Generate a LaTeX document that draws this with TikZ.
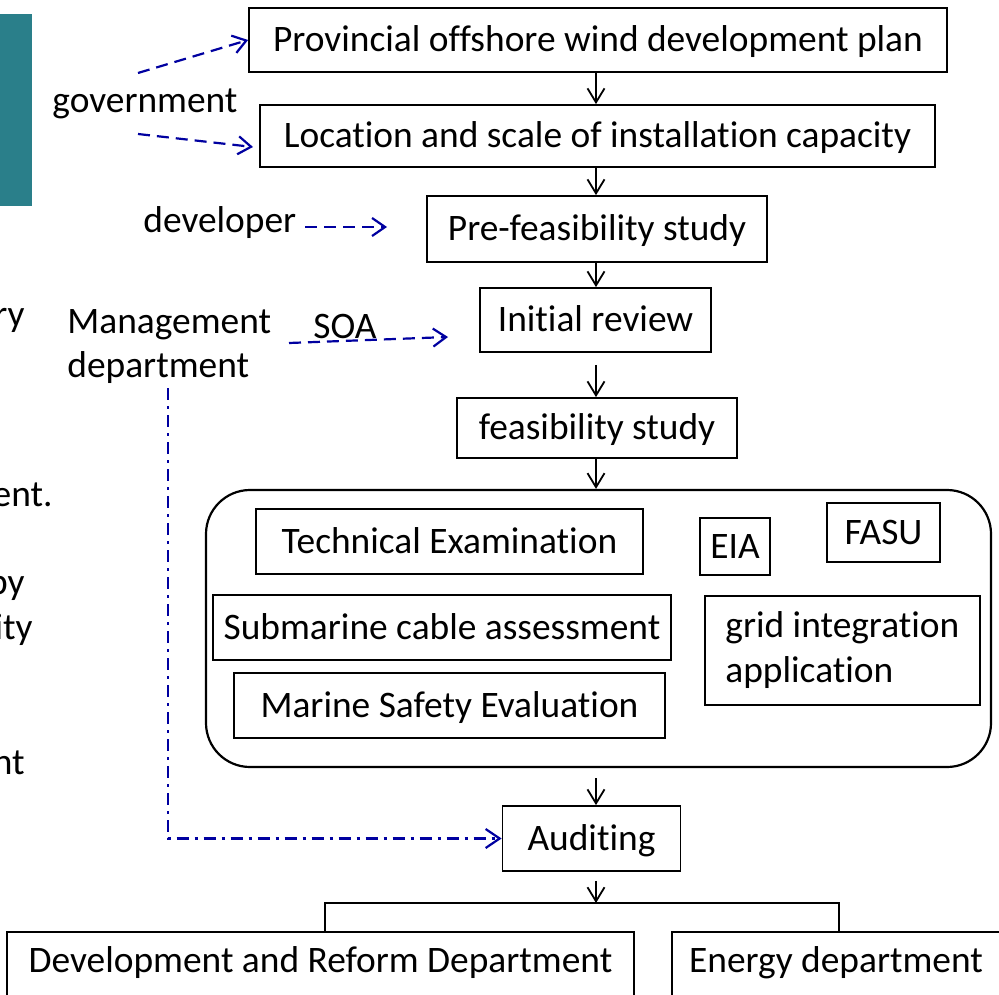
\documentclass[tikz,border=0pt]{standalone}
\usepackage{fontspec}
\setmainfont{Carlito}[Ligatures=NoCommon]
\usetikzlibrary{arrows.meta}
\definecolor{tealbar}{RGB}{42,127,138}
\definecolor{arrowblue}{RGB}{0,0,160}
\begin{document}
\begin{tikzpicture}[x=0.5pt,y=-0.5pt,
  every node/.style={font=\fontsize{18.7}{22.4}\selectfont, inner sep=0pt},
  box/.style={draw, line width=0.9pt, text height=16.4pt, text depth=4.6pt},
  lowbox/.style={draw, line width=0.9pt, text height=10.6pt, text depth=4.6pt},
  lbl/.style={anchor=base west},
  lblr/.style={anchor=base east},
  flow/.style={line width=0.9pt, -{Straight Barb[length=7pt,width=8.5pt,line width=0.9pt]}},
  govarrow/.style={arrowblue, line width=1.1pt, dash pattern=on 6pt off 3.5pt, -{Straight Barb[length=6.5pt,width=9pt,line width=1.1pt]}},
  ddarrow/.style={arrowblue, line width=1.1pt, dash pattern=on 6pt off 3pt on 1.5pt off 3pt, -{Straight Barb[length=7pt,width=9.5pt,line width=1.1pt]}},
]
\useasboundingbox (0,0) rectangle (999,994);
\clip (0,0) rectangle (999,994);

% teal bar
\fill[tealbar] (0,14) rectangle (32,206);

% cut-off text on the left
\node[lblr] (f1) at (25,326) {ry};
\node[lblr] (f2) at (53,506) {ent.};
\node[lblr] (f3) at (25,594) {by};
\node[lblr] (f4) at (33,639) {ity};
\node[lblr] (f5) at (25,774) {nt};

% main flow boxes
\node[box, minimum width=349pt, minimum height=32pt] (plan) at (598,40) {Provincial offshore wind development plan};
\node[box, minimum width=337.5pt, minimum height=31pt] (loc) at (597.5,136) {Location and scale of installation capacity};
\node[box, minimum width=170pt, minimum height=33pt] (pre) at (597,229) {Pre-feasibility study};
\node[box, minimum width=115.5pt, minimum height=32pt] (init) at (595.5,320) {Initial review};
\node[box, minimum width=140pt, minimum height=30pt] (feas) at (597,428) {feasibility study};

% group
\node[draw, line width=1.1pt, rounded corners=22pt, minimum width=392.5pt, minimum height=138.5pt] (group) at (598.5,628.5) {};
\node[box, minimum width=193.5pt, minimum height=32.5pt] (tech) at (449.5,541.5) {Technical Examination};
\node[box, minimum width=35pt, minimum height=28.5pt] (eia) at (735,546.5) {EIA};
\node[box, minimum width=56.5pt, minimum height=29.5pt] (fasu) at (883.5,532.5) {FASU};
\node[box, minimum width=229pt, minimum height=32.5pt] (sub) at (442,627.5) {Submarine cable assessment};
\node[box, minimum width=137.5pt, minimum height=54.5pt] (grid) at (842.5,650.5) {};
\node[lbl] (gridA) at (725,637) {grid integration};
\node[lbl] (gridB) at (725,682) {application};
\node[box, minimum width=215.5pt, minimum height=32.5pt] (marine) at (449.5,705.5) {Marine Safety Evaluation};

\node[box, minimum width=89pt, minimum height=32.5pt] (audit) at (591.5,838.5) {Auditing};

\node[lowbox, minimum width=313.5pt, minimum height=34pt] (ndrc) at (320.5,966) {Development and Reform Department};
\node[lowbox, minimum width=164pt, minimum height=34pt] (energy) at (836,966) {Energy department};

% side labels
\node[lbl] (gov) at (52,113) {government};
\node[lbl] (devl) at (143,233) {developer};
\node[lbl] (mgmt1) at (67,333) {Management};
\node[lbl] (mgmt2) at (67,377) {department};
\node[lbl] (soa) at (313,338) {SOA};

% flow arrows
\coordinate (ax) at (596,0);
\draw[flow] (plan.south -| ax) -- (loc.north -| ax);
\draw[flow] (loc.south -| ax) -- (pre.north -| ax);
\draw[flow] (pre.south -| ax) -- (init.north -| ax);
\draw[flow, shorten <=6pt] (init.south -| ax) -- (feas.north -| ax);
\draw[flow] (feas.south -| ax) -- (group.north -| ax);
\draw[flow, shorten <=5pt] (group.south -| ax) -- (audit.north -| ax);
\coordinate (fork) at (596,903);
\coordinate (fl) at (325,903);
\coordinate (fr) at (839,903);
\draw[flow, shorten <=4.5pt] (audit.south -| ax) -- (fork);
\draw[line width=0.9pt] (fl |- ndrc.north) -- (fl) -- (fr) -- (fr |- energy.north);

% blue arrows
\coordinate (g1s) at (138,73);
\coordinate (g2s) at (138,134);
\coordinate (g2e) at (253,147);
\coordinate (ds) at (305,227);
\coordinate (de) at (387,227);
\coordinate (ss) at (289,343);
\coordinate (se) at (448,337);
\coordinate (ms) at (168,388);
\coordinate (mc) at (168,838.5);
\draw[govarrow] (g1s) -- (plan.west);
\draw[govarrow] (g2s) -- (g2e);
\draw[govarrow] (ds) -- (de);
\draw[govarrow] (ss) -- (se);
\draw[ddarrow] (ms) -- (mc) -- (audit.west);
\end{tikzpicture}
\end{document}
